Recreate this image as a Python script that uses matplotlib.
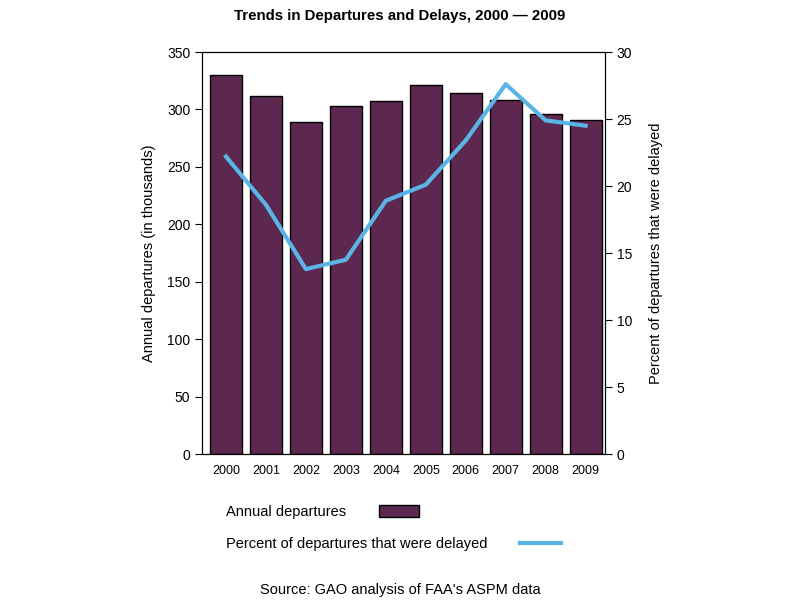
import matplotlib
matplotlib.use("Agg")
import matplotlib.pyplot as plt
import numpy as np

plt.rcParams["font.family"] = ["Liberation Sans", "DejaVu Sans"]

# Data
years = ["2000", "2001", "2002", "2003", "2004", "2005", "2006", "2007", "2008", "2009"]
departures = [330, 312, 289, 303, 307, 321, 314, 308, 296, 291]
pct_delayed = [22.2, 18.6, 13.8, 14.5, 18.9, 20.1, 23.4, 27.6, 24.9, 24.5]

bar_color = "#5C2850"
line_color = "#5AB4E5"

fig = plt.figure(figsize=(8, 6), dpi=100)
ax = fig.add_axes([0.2525, 0.2433, 0.5035, 0.67])
x = np.arange(len(years))

bars = ax.bar(x, departures, width=0.8, color=bar_color, edgecolor="black",
              linewidth=1, label="Annual departures")
ax.set_xlim(-0.6, 9.48)
ax.set_ylim(0, 350)
ax.set_yticks(range(0, 351, 50))
ax.set_xticks(x)
ax.set_xticklabels(years, fontsize=9)
ax.tick_params(axis="x", length=0, pad=8)
ax.tick_params(axis="y", direction="out", length=5, labelsize=10)
ax.set_ylabel("Annual departures (in thousands)", fontsize=10.5, labelpad=8)

ax2 = ax.twinx()
line, = ax2.plot(x, pct_delayed, color=line_color, linewidth=3,
                 label="Percent of departures that were delayed")
ax2.set_ylim(0, 30)
ax2.set_yticks(range(0, 31, 5))
ax2.tick_params(axis="y", direction="out", length=5, labelsize=10)
ax2.set_ylabel("Percent of departures that were delayed", fontsize=10.5, labelpad=12)

fig.suptitle("Trends in Departures and Delays, 2000 \u2014 2009", y=0.985,
             fontsize=10.8, fontweight="bold")

# Legend: label first, key after it; one row per entry so text stays left-aligned
legend_opts = dict(loc="center left", frameon=False, markerfirst=False,
                   fontsize=10.5, handlelength=2.8, handleheight=0.9,
                   handletextpad=2.2, borderaxespad=0, borderpad=0)
fig.legend([bars], ["Annual departures"], bbox_to_anchor=(0.283, 0.1467),
           **legend_opts)
fig.legend([line], ["Percent of departures that were delayed"],
           bbox_to_anchor=(0.283, 0.0933), **legend_opts)

fig.text(0.5, 0.01, "Source: GAO analysis of FAA's ASPM data",
         ha="center", fontsize=10.5)

fig.savefig("out.png", dpi=100)
